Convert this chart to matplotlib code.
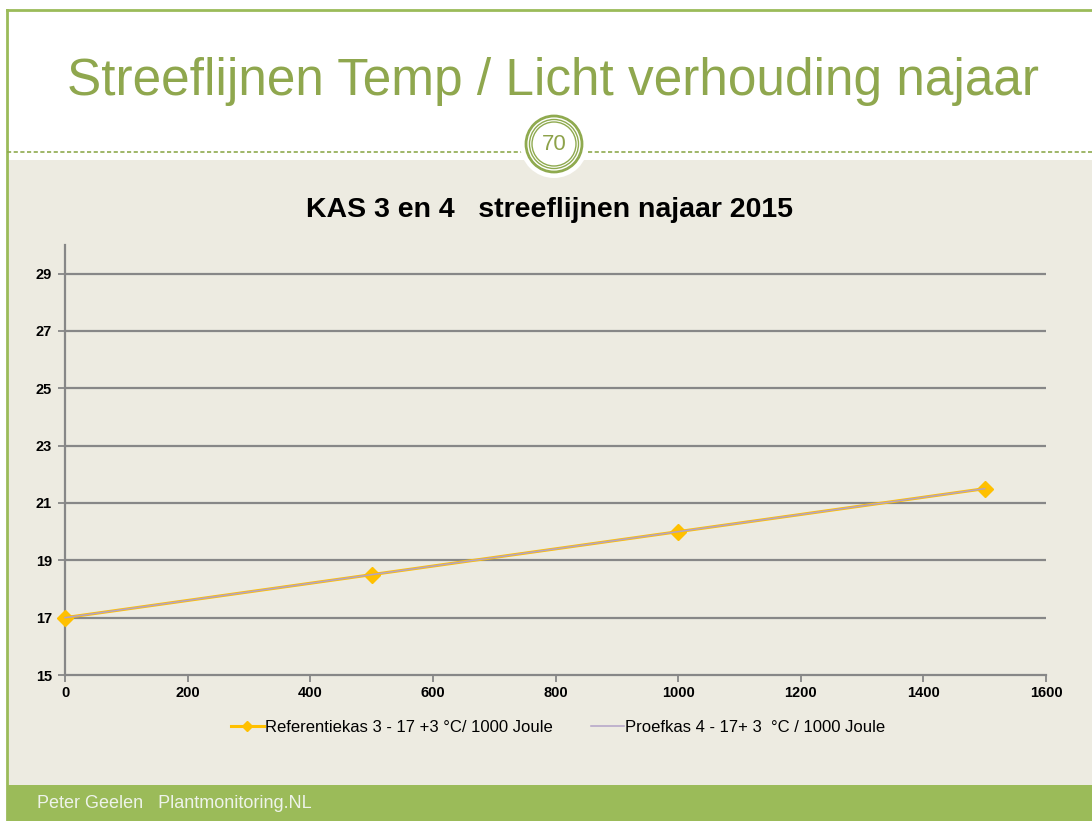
import matplotlib
matplotlib.use("Agg")
import matplotlib.pyplot as plt
from matplotlib.patches import Rectangle, Ellipse
from matplotlib.lines import Line2D

plt.rcParams['font.family'] = ['Liberation Sans', 'DejaVu Sans']

# Data
licht = [0, 500, 1000, 1500]
referentiekas = [17, 18.5, 20, 21.5]
proefkas = [17, 18.5, 20, 21.5]
label_ref = "Referentiekas 3 - 17 +3 \u00b0C/ 1000 Joule"
label_proef = "Proefkas 4 - 17+ 3  \u00b0C / 1000 Joule"
x_ticks = [0, 200, 400, 600, 800, 1000, 1200, 1400, 1600]
y_ticks = [15, 17, 19, 21, 23, 25, 27, 29]

W, H = 1092, 821
fig = plt.figure(figsize=(W / 100, H / 100), dpi=100)
fig.patch.set_facecolor('white')

green = '#9BBB59'
title_green = '#8FA74E'
beige = '#EDEBE1'


def fx(px):
    return px / W


def fy(py):
    return 1 - py / H


# Slide background areas
fig.add_artist(Rectangle((fx(7), fy(785)), fx(W - 7), (785 - 160) / H,
                         transform=fig.transFigure, facecolor=beige, edgecolor='none', zorder=0))
fig.add_artist(Rectangle((fx(7), 0), fx(W - 7), 36 / H,
                         transform=fig.transFigure, facecolor=green, edgecolor='none', zorder=0))
# Frame lines
fig.add_artist(Line2D([fx(7), fx(7)], [0, fy(10)], transform=fig.transFigure,
                      color=green, lw=2, zorder=1))
fig.add_artist(Line2D([fx(7), 1], [fy(10), fy(10)], transform=fig.transFigure,
                      color=green, lw=2, zorder=1))
# Dashed divider
fig.add_artist(Line2D([fx(7), fx(522)], [fy(152), fy(152)], transform=fig.transFigure,
                      color='#8FAA4F', lw=1.2, ls=(0, (2.5, 1.5)), zorder=1))
fig.add_artist(Line2D([fx(588), 1], [fy(152), fy(152)], transform=fig.transFigure,
                      color='#8FAA4F', lw=1.2, ls=(0, (2.5, 1.5)), zorder=1))

# Page number badge
cx, cy = fx(554), fy(144)
r = 34
fig.add_artist(Ellipse((cx, cy), 2 * r / W, 2 * r / H, transform=fig.transFigure,
                       facecolor='white', edgecolor='none', zorder=2))
for rr, lw in [(28, 2.0), (24.5, 1.0), (22, 1.0)]:
    fig.add_artist(Ellipse((cx, cy), 2 * rr / W, 2 * rr / H, transform=fig.transFigure,
                           facecolor='none', edgecolor='#8FAA4F', lw=lw, zorder=3))
fig.text(cx, cy, "70", ha='center', va='center', fontsize=16, color='#8DA24A', zorder=4)

# Slide title
fig.text(fx(553), fy(95), "Streeflijnen Temp / Licht verhouding najaar",
         ha='center', va='baseline', fontsize=37, color=title_green)

# Footer
fig.text(fx(37), fy(803), "Peter Geelen   Plantmonitoring.NL", ha='left', va='center',
         fontsize=13, color='#EEF3EA')

# Chart
ax = fig.add_axes([fx(65), fy(675), fx(1046 - 65), (675 - 245) / H])
ax.set_facecolor('none')
ax.set_xlim(0, 1600)
ax.set_ylim(15, 30)
ax.set_xticks(x_ticks)
ax.set_yticks(y_ticks)
for s in ['top', 'right']:
    ax.spines[s].set_visible(False)
for s in ['left', 'bottom']:
    ax.spines[s].set_color('#878787')
    ax.spines[s].set_linewidth(1.6)
ax.tick_params(axis='both', colors='#878787', width=1.3, length=5, labelsize=10.5,
               labelcolor='black')
ax.tick_params(axis='y', pad=4.5)
ax.tick_params(axis='x', pad=3)
for t in ax.get_xticklabels() + ax.get_yticklabels():
    t.set_fontweight('bold')
for y in y_ticks[1:]:
    ax.axhline(y, color='#878787', lw=1.6, zorder=1)

ax.plot(licht, referentiekas, color='#FFC000', lw=2.2, marker='D', markersize=8,
        label=label_ref, zorder=3, clip_on=False)
ax.plot(licht, proefkas, color='#B3A2C7', lw=1.1, label=label_proef, zorder=4,
        clip_on=False)

fig.text(fx(550), fy(210), "KAS 3 en 4   streeflijnen najaar 2015", ha='center', va='center',
         fontsize=20.5, fontweight='bold')

leg = ax.legend(loc='center', bbox_to_anchor=(fx(558), fy(727)),
                bbox_transform=fig.transFigure, ncol=2, frameon=False,
                fontsize=12, handlelength=2.0, handletextpad=0.05, columnspacing=2.3,
                markerscale=0.7)

fig.savefig('out.png', dpi=100, facecolor=fig.get_facecolor())
